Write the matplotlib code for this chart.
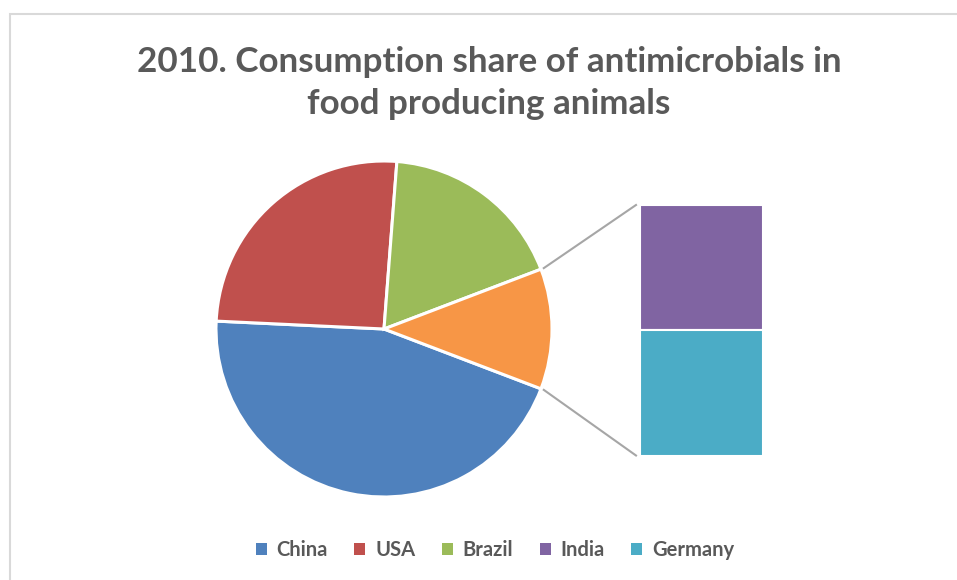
import matplotlib
matplotlib.use("Agg")
import matplotlib.pyplot as plt
import numpy as np
from matplotlib.patches import Patch, Rectangle
from matplotlib.lines import Line2D

# Data (share of consumption, %)
pie_labels = ["China", "USA", "Brazil", "Other"]
pie_values = [45.0, 25.5, 18.0, 11.6]
bar_labels = ["India", "Germany"]
bar_values = [5.8, 5.8]

colors = {"China": "#4F81BD", "USA": "#C0504D", "Brazil": "#9BBB59",
          "Other": "#F79646", "India": "#8064A2", "Germany": "#4BACC6"}

title = "2010. Consumption share of antimicrobials in\nfood producing animals"

W, H = 957, 580
fig = plt.figure(figsize=(W / 100, H / 100), dpi=100)
ax = fig.add_axes([0, 0, 1, 1])

cx, cy, r = 384, H - 329, 168
total = sum(pie_values)
other_span = pie_values[-1] / total * 360.0
start = -other_span / 2  # "Other" wedge centred at 3 o'clock; clockwise order
wedges, _ = ax.pie(pie_values, colors=[colors[l] for l in pie_labels],
                   startangle=start, counterclock=False,
                   center=(cx, cy), radius=r,
                   wedgeprops=dict(edgecolor="white", linewidth=2.2))
ax.set_xlim(0, W)
ax.set_ylim(0, H)
ax.set_aspect("equal")
ax.axis("off")

# chart border
ax.add_patch(Rectangle((10, -5), W + 10, H - 14 + 5, fill=False,
                       edgecolor="#D9D9D9", linewidth=1.5))

# secondary bar
bar_x, bar_w = 701.5, 123
bar_top, bar_bot = H - 205, H - 455.5
scale = (bar_top - bar_bot) / sum(bar_values)
bottom = bar_top
for lab, v in zip(bar_labels, bar_values):
    h = v * scale
    bottom -= h
    ax.bar(bar_x, h, width=bar_w, bottom=bottom, color=colors[lab],
           edgecolor="white", linewidth=1.5)

# connector lines from "Other" wedge edges to bar corners
ow = wedges[-1]
for ang, by in [(ow.theta2, bar_top), (ow.theta1, bar_bot)]:
    a = np.deg2rad(ang)
    px, py = cx + (r + 3) * np.cos(a), cy + (r + 3) * np.sin(a)
    ax.add_line(Line2D([px, bar_x - bar_w / 2 - 4], [py, by],
                       color="#A6A6A6", linewidth=1.5))

fam = ["Lato", "DejaVu Sans"]
fig.text(489 / W, 1 - 83 / H, title, ha="center", va="center",
         fontsize=25.2, fontweight="bold", color="#595959", family=fam,
         linespacing=1.42)

handles = [Patch(facecolor=colors[l], edgecolor="none") for l in
           ["China", "USA", "Brazil", "India", "Germany"]]
leg = fig.legend(handles, ["China", "USA", "Brazil", "India", "Germany"],
                 loc="center", bbox_to_anchor=(495 / W, 1 - 550 / H),
                 ncol=5, frameon=False, handlelength=0.55, handleheight=0.55,
                 handletextpad=0.5, columnspacing=1.3,
                 prop=dict(family=fam, size=14.5, weight="bold"))
for t in leg.get_texts():
    t.set_color("#595959")

fig.savefig("out.png", dpi=100)
